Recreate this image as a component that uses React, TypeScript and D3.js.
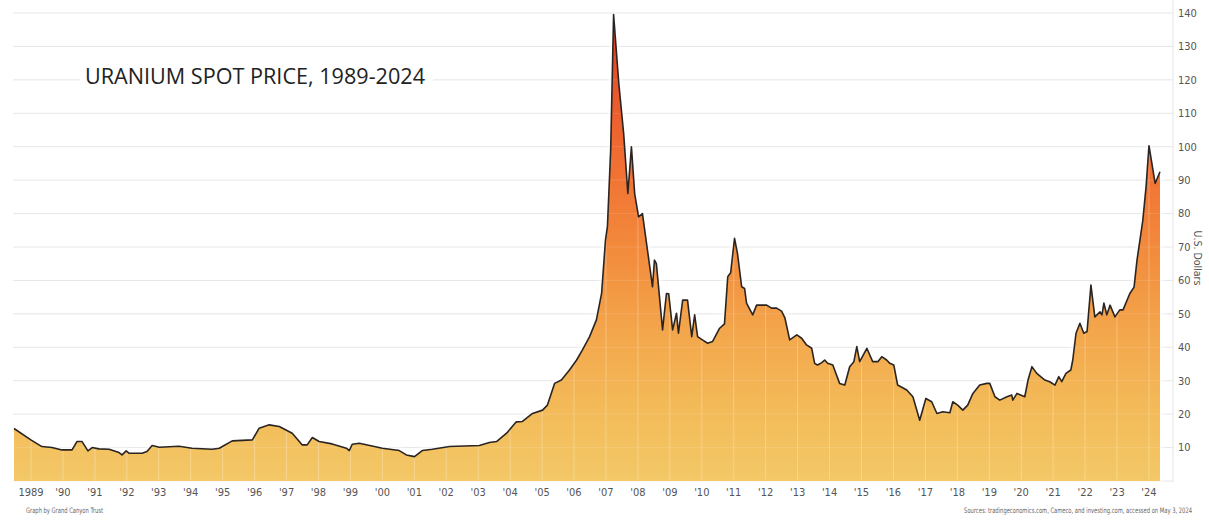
import React from "react";
import * as d3 from "d3";

const years: number[] = [
  1989.0, 1989.52, 1989.86, 1990.17, 1990.48, 1990.79, 1990.94, 1991.1, 1991.28, 1991.41,
  1991.62, 1991.93, 1992.24, 1992.33, 1992.46, 1992.55, 1992.95, 1993.1, 1993.26, 1993.48,
  1994.09, 1994.49, 1995.11, 1995.33, 1995.73, 1996.35, 1996.56, 1996.87, 1997.18, 1997.58,
  1997.89, 1998.04, 1998.2, 1998.41, 1998.81, 1999.25, 1999.34, 1999.43, 1999.65, 2000.36,
  2000.88, 2001.1, 2001.35, 2001.59, 2001.9, 2002.43, 2003.35, 2003.66, 2003.88, 2004.19,
  2004.49, 2004.68, 2004.99, 2005.3, 2005.45, 2005.67, 2005.88, 2006.13, 2006.35, 2006.53,
  2006.75, 2006.96, 2007.12, 2007.24, 2007.3, 2007.4, 2007.49, 2007.65, 2007.8, 2007.93,
  2008.04, 2008.14, 2008.26, 2008.38, 2008.69, 2008.75, 2008.81, 2009.0, 2009.12, 2009.19,
  2009.31, 2009.43, 2009.49, 2009.62, 2009.77, 2009.9, 2009.99, 2010.08, 2010.23, 2010.39,
  2010.54, 2010.76, 2010.91, 2011.01, 2011.1, 2011.22, 2011.31, 2011.44, 2011.53, 2011.59,
  2011.78, 2011.9, 2012.21, 2012.36, 2012.52, 2012.67, 2012.77, 2012.92, 2013.14, 2013.29,
  2013.44, 2013.6, 2013.69, 2013.78, 2013.91, 2014.0, 2014.09, 2014.25, 2014.46, 2014.62,
  2014.77, 2014.9, 2014.99, 2015.08, 2015.3, 2015.48, 2015.64, 2015.76, 2015.91, 2016.01,
  2016.13, 2016.25, 2016.53, 2016.72, 2016.93, 2017.12, 2017.3, 2017.46, 2017.64, 2017.86,
  2017.95, 2018.1, 2018.26, 2018.41, 2018.57, 2018.78, 2019.0, 2019.09, 2019.25, 2019.4,
  2019.62, 2019.77, 2019.8, 2019.93, 2020.17, 2020.27, 2020.39, 2020.54, 2020.79, 2020.94,
  2021.1, 2021.22, 2021.31, 2021.44, 2021.59, 2021.65, 2021.75, 2021.87, 2021.99, 2022.09,
  2022.21, 2022.33, 2022.49, 2022.55, 2022.61, 2022.7, 2022.8, 2022.95, 2023.1, 2023.2,
  2023.41, 2023.54, 2023.63, 2023.72, 2023.81, 2023.91, 2024.0, 2024.19, 2024.34,
];

const prices: number[] = [
  15.7, 12.3, 10.3, 10.0, 9.3, 9.3, 11.8, 11.8, 9.0, 10.0,
  9.6, 9.5, 8.5, 7.8, 9.0, 8.3, 8.3, 8.8, 10.6, 10.1,
  10.4, 9.8, 9.5, 9.8, 12.0, 12.3, 15.8, 16.8, 16.3, 14.3,
  10.8, 10.8, 13.0, 11.8, 11.1, 9.8, 9.1, 11.0, 11.3, 9.8,
  9.1, 7.8, 7.3, 9.1, 9.5, 10.3, 10.6, 11.5, 11.8, 14.3,
  17.7, 17.8, 20.2, 21.2, 22.7, 29.2, 30.2, 33.2, 36.2, 39.2,
  43.2, 48.2, 56.1, 72.1, 76.1, 99.0, 139.5, 119.0, 104.0, 86.0,
  100.0, 86.0, 79.0, 80.0, 58.1, 66.1, 65.0, 45.2, 56.1, 56.0,
  45.2, 50.2, 44.2, 54.1, 54.1, 43.2, 49.7, 43.2, 42.2, 41.2,
  41.7, 45.7, 47.0, 61.1, 62.3, 72.6, 68.1, 58.1, 57.6, 53.2,
  49.7, 52.6, 52.6, 51.7, 51.7, 50.8, 48.9, 42.2, 43.7, 42.7,
  40.7, 39.7, 35.2, 34.7, 35.4, 36.2, 35.2, 34.7, 29.2, 28.7,
  34.2, 35.7, 40.2, 35.7, 39.7, 35.7, 35.7, 37.2, 36.2, 35.2,
  34.7, 28.7, 27.2, 25.2, 18.2, 24.7, 23.7, 20.2, 20.7, 20.4,
  23.7, 22.7, 21.2, 22.7, 26.2, 28.7, 29.2, 29.2, 25.2, 24.2,
  25.2, 25.7, 24.2, 26.2, 25.2, 30.2, 34.2, 32.2, 30.2, 29.7,
  28.7, 31.2, 29.7, 32.2, 33.2, 36.2, 44.2, 47.2, 44.2, 44.7,
  58.6, 49.1, 50.6, 49.7, 53.2, 49.7, 52.6, 49.1, 51.2, 51.2,
  56.1, 58.0, 66.0, 72.0, 78.0, 88.0, 100.3, 89.0, 92.5,
];

const tickYears: number[] = [
  1989, 1990, 1991, 1992, 1993, 1994, 1995, 1996, 1997, 1998, 1999, 2000,
  2001, 2002, 2003, 2004, 2005, 2006, 2007, 2008, 2009, 2010, 2011, 2012,
  2013, 2014, 2015, 2016, 2017, 2018, 2019, 2020, 2021, 2022, 2023, 2024,
];
const tickLabels: string[] = [
  "1989", "'90", "'91", "'92", "'93", "'94", "'95", "'96", "'97", "'98", "'99", "'00",
  "'01", "'02", "'03", "'04", "'05", "'06", "'07", "'08", "'09", "'10", "'11", "'12",
  "'13", "'14", "'15", "'16", "'17", "'18", "'19", "'20", "'21", "'22", "'23", "'24",
];
const yTicks: number[] = [10, 20, 30, 40, 50, 60, 70, 80, 90, 100, 110, 120, 130, 140];

const W = 1209;
const H = 521;
const condensed = "'Liberation Sans Narrow', 'DejaVu Sans Condensed', 'Roboto Condensed', 'Open Sans', sans-serif";

export default function App() {
  const data = years.map((t, i) => ({ t, v: prices[i] }));
  const x = d3.scaleLinear().domain([1989, 2024.34]).range([14, 1160]);
  const xt = d3.scaleLinear().domain([1989, 2024]).range([31, 1149]);
  const y = d3.scaleLinear().domain([0, 140]).range([481, 13]);

  const area = d3
    .area<{ t: number; v: number }>()
    .x((d) => x(d.t))
    .y0(y(0))
    .y1((d) => y(d.v));
  const line = d3
    .line<{ t: number; v: number }>()
    .x((d) => x(d.t))
    .y((d) => y(d.v));

  const areaPath = area(data) || "";
  const linePath = line(data) || "";
  const gridLeft = 13;
  const axisX = 1173;

  return (
    <svg
      width={W}
      height={H}
      style={{ position: "absolute", left: 0, top: 0, background: "#fff" }}
    >
      <defs>
        <linearGradient id="fillGrad" gradientUnits="userSpaceOnUse" x1="0" y1={y(140)} x2="0" y2={y(0)}>
          <stop offset="0%" stopColor="#dc3a1f" />
          <stop offset="14%" stopColor="#e9532a" />
          <stop offset="30%" stopColor="#f06c31" />
          <stop offset="50%" stopColor="#f28a3c" />
          <stop offset="68%" stopColor="#f3a64b" />
          <stop offset="85%" stopColor="#f3bb59" />
          <stop offset="100%" stopColor="#f3c867" />
        </linearGradient>
        <clipPath id="areaClip">
          <path d={areaPath} />
        </clipPath>
        <filter id="glow" x="-5%" y="-5%" width="110%" height="110%">
          <feGaussianBlur stdDeviation="2.5" />
        </filter>
      </defs>

      {/* horizontal gridlines */}
      <g>
        {yTicks.map((v) => (
          <line key={v} x1={gridLeft} x2={axisX} y1={y(v)} y2={y(v)} stroke="#e6e6e6" strokeWidth={1} />
        ))}
        <line x1={gridLeft} x2={axisX} y1={y(0)} y2={y(0)} stroke="#e6e6e6" strokeWidth={1} />
        <line x1={axisX} x2={axisX} y1={0} y2={y(0) + 1} stroke="#e6e6e6" strokeWidth={1} />
      </g>

      {/* soft glow behind area */}
      <path d={areaPath} fill="#ffffff" stroke="#ffffff" strokeWidth={5} filter="url(#glow)" opacity={0.9} />

      {/* area */}
      <path d={areaPath} fill="url(#fillGrad)" />

      {/* light vertical lines inside the fill */}
      <g clipPath="url(#areaClip)">
        {tickYears.map((t) => (
          <line key={t} x1={xt(t)} x2={xt(t)} y1={0} y2={y(0)} stroke="#ffffff" strokeOpacity={0.28} strokeWidth={1} />
        ))}
        {yTicks.map((v) => (
          <line key={"h" + v} x1={gridLeft} x2={axisX} y1={y(v)} y2={y(v)} stroke="#ffffff" strokeOpacity={0.12} strokeWidth={1} />
        ))}
      </g>

      {/* price line */}
      <path d={linePath} fill="none" stroke="#2a2522" strokeWidth={1.6} strokeLinejoin="round" />

      {/* title */}
      <rect x={80} y={62} width={353} height={30} fill="#ffffff" />
      <text
        x={85}
        y={84}
        fontFamily="'Open Sans', 'Noto Sans', sans-serif"
        fontSize={21.5}
        fill="#222"
        textLength={340}
        lengthAdjust="spacingAndGlyphs"
      >
        URANIUM SPOT PRICE, 1989-2024
      </text>

      {/* y axis labels */}
      <g fontFamily={condensed} fontSize={11} fill="#555">
        {yTicks.map((v) => (
          <text key={v} x={1178} y={y(v)} dy="0.35em">
            {v}
          </text>
        ))}
      </g>
      <text
        transform={`translate(1194, 258) rotate(90)`}
        fontFamily={condensed}
        fontSize={10.5}
        fill="#555"
        textAnchor="middle"
      >
        U.S. Dollars
      </text>

      {/* x axis labels */}
      <g fontFamily={condensed} fontSize={11} fill="#555" textAnchor="middle">
        {tickYears.map((t, i) => (
          <text key={t} x={xt(t)} y={496}>
            {tickLabels[i]}
          </text>
        ))}
      </g>

      {/* footer */}
      <g transform="translate(26, 513) scale(0.77, 1)">
        <text x={0} y={0} fontFamily={condensed} fontSize={7.5} fill="#666">
          Graph by Grand Canyon Trust
        </text>
      </g>
      <g transform="translate(1192, 513) scale(0.77, 1)">
        <text x={0} y={0} fontFamily={condensed} fontSize={7.5} fill="#666" textAnchor="end">
          Sources: tradingeconomics.com, Cameco, and investing.com, accessed on May 3, 2024
        </text>
      </g>
    </svg>
  );
}
